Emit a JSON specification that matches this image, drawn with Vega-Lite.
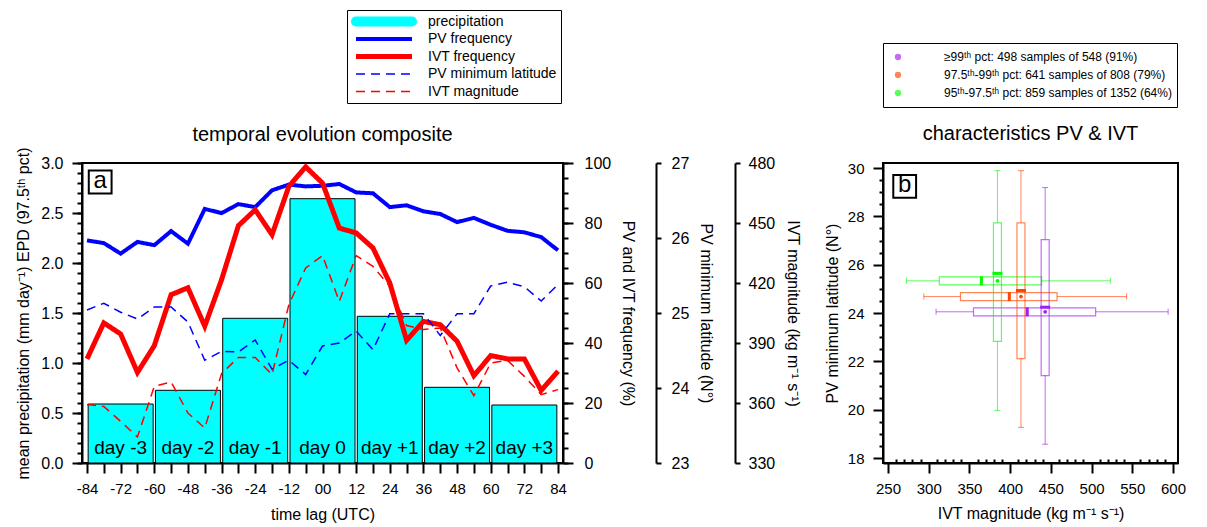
{
  "$schema": "https://vega.github.io/schema/vega-lite/v6.json",
  "autosize": {"type": "none"},
  "padding": {"left": 82, "top": 163, "right": 1125, "bottom": 364},
  "background": "white",
  "config": {
    "font": "Liberation Sans",
    "view": {"stroke": "black", "strokeWidth": 2},
    "axis": {"domainColor": "black", "domainWidth": 2, "tickColor": "black", "tickWidth": 2, "labelFontSize": 15, "labelColor": "black", "labelFont": "Liberation Sans", "titleFont": "Liberation Sans", "titleFontSize": 16, "titleFontWeight": "normal", "titleColor": "black", "grid": false, "labelFlush": false, "labelOverlap": false},
    "legend": {"labelFont": "Liberation Sans", "labelColor": "black", "strokeColor": "black", "fillColor": "white", "labelLimit": 400},
    "title": {"font": "Liberation Sans", "fontSize": 20, "fontWeight": "normal", "color": "black"}
  },
  "datasets": {
    "precip": [
      {"lag": -72, "precip": 0.59, "label": "day -3"},
      {"lag": -48, "precip": 0.727, "label": "day -2"},
      {"lag": -24, "precip": 1.447, "label": "day -1"},
      {"lag": 0, "precip": 2.643, "label": "day 0"},
      {"lag": 24, "precip": 1.467, "label": "day +1"},
      {"lag": 48, "precip": 0.757, "label": "day +2"},
      {"lag": 72, "precip": 0.58, "label": "day +3"}
    ],
    "lines": [
      {"lag": -84, "PV frequency": 74.2, "IVT frequency": 34.7, "PV minimum latitude": 25.04, "IVT magnitude": 359.2},
      {"lag": -78, "PV frequency": 73.3, "IVT frequency": 46.7, "PV minimum latitude": 25.13, "IVT magnitude": 358.3},
      {"lag": -72, "PV frequency": 69.8, "IVT frequency": 43.0, "PV minimum latitude": 25.01, "IVT magnitude": 350.8},
      {"lag": -66, "PV frequency": 73.7, "IVT frequency": 30.2, "PV minimum latitude": 24.92, "IVT magnitude": 343.0},
      {"lag": -60, "PV frequency": 72.6, "IVT frequency": 39.1, "PV minimum latitude": 25.08, "IVT magnitude": 368.3},
      {"lag": -54, "PV frequency": 77.3, "IVT frequency": 56.1, "PV minimum latitude": 25.08, "IVT magnitude": 370.5},
      {"lag": -48, "PV frequency": 73.1, "IVT frequency": 58.4, "PV minimum latitude": 24.88, "IVT magnitude": 355.0},
      {"lag": -42, "PV frequency": 84.7, "IVT frequency": 45.6, "PV minimum latitude": 24.37, "IVT magnitude": 347.5},
      {"lag": -36, "PV frequency": 83.3, "IVT frequency": 61.1, "PV minimum latitude": 24.49, "IVT magnitude": 374.7},
      {"lag": -30, "PV frequency": 86.3, "IVT frequency": 79.1, "PV minimum latitude": 24.48, "IVT magnitude": 382.8},
      {"lag": -24, "PV frequency": 85.3, "IVT frequency": 84.4, "PV minimum latitude": 24.64, "IVT magnitude": 382.8},
      {"lag": -18, "PV frequency": 90.9, "IVT frequency": 76.1, "PV minimum latitude": 24.25, "IVT magnitude": 374.2},
      {"lag": -12, "PV frequency": 92.8, "IVT frequency": 92.2, "PV minimum latitude": 24.37, "IVT magnitude": 409.2},
      {"lag": -6, "PV frequency": 92.2, "IVT frequency": 98.7, "PV minimum latitude": 24.18, "IVT magnitude": 427.5},
      {"lag": 0, "PV frequency": 92.4, "IVT frequency": 93.3, "PV minimum latitude": 24.56, "IVT magnitude": 433.7},
      {"lag": 6, "PV frequency": 93.0, "IVT frequency": 78.3, "PV minimum latitude": 24.60, "IVT magnitude": 410.8},
      {"lag": 12, "PV frequency": 90.2, "IVT frequency": 76.7, "PV minimum latitude": 24.76, "IVT magnitude": 433.7},
      {"lag": 18, "PV frequency": 89.9, "IVT frequency": 71.7, "PV minimum latitude": 24.51, "IVT magnitude": 428.3},
      {"lag": 24, "PV frequency": 85.3, "IVT frequency": 60.0, "PV minimum latitude": 24.99, "IVT magnitude": 418.3},
      {"lag": 30, "PV frequency": 85.9, "IVT frequency": 40.9, "PV minimum latitude": 24.99, "IVT magnitude": 398.7},
      {"lag": 36, "PV frequency": 83.9, "IVT frequency": 47.2, "PV minimum latitude": 24.99, "IVT magnitude": 396.7},
      {"lag": 42, "PV frequency": 83.0, "IVT frequency": 46.1, "PV minimum latitude": 24.70, "IVT magnitude": 397.5},
      {"lag": 48, "PV frequency": 80.3, "IVT frequency": 40.6, "PV minimum latitude": 24.99, "IVT magnitude": 377.5},
      {"lag": 54, "PV frequency": 81.7, "IVT frequency": 29.1, "PV minimum latitude": 24.99, "IVT magnitude": 363.7},
      {"lag": 60, "PV frequency": 79.4, "IVT frequency": 35.8, "PV minimum latitude": 25.36, "IVT magnitude": 380.0},
      {"lag": 66, "PV frequency": 77.4, "IVT frequency": 34.7, "PV minimum latitude": 25.41, "IVT magnitude": 381.3},
      {"lag": 72, "PV frequency": 76.9, "IVT frequency": 34.7, "PV minimum latitude": 25.35, "IVT magnitude": 373.3},
      {"lag": 78, "PV frequency": 75.3, "IVT frequency": 24.2, "PV minimum latitude": 25.16, "IVT magnitude": 364.2},
      {"lag": 84, "PV frequency": 70.9, "IVT frequency": 30.6, "PV minimum latitude": 25.38, "IVT magnitude": 366.7}
    ],
    "boxes": [
      {"cat": "≥99ᵗʰ pct: 498 samples of 548 (91%)", "ivt_lo": 309, "ivt_q1": 355, "ivt_med": 421, "ivt_q3": 505, "ivt_hi": 594, "ivt_mean": 443, "lat_lo": 18.57, "lat_q1": 21.41, "lat_med": 24.24, "lat_q3": 27.04, "lat_hi": 29.19, "lat_mean": 24.05},
      {"cat": "97.5ᵗʰ-99ᵗʰ pct: 641 samples of 808 (79%)", "ivt_lo": 294, "ivt_q1": 339, "ivt_med": 399, "ivt_q3": 457.6, "ivt_hi": 543, "ivt_mean": 413.3, "lat_lo": 19.27, "lat_q1": 22.11, "lat_med": 24.93, "lat_q3": 27.73, "lat_hi": 29.89, "lat_mean": 24.68},
      {"cat": "95ᵗʰ-97.5ᵗʰ pct: 859 samples of 1352 (64%)", "ivt_lo": 272.5, "ivt_q1": 313, "ivt_med": 364.7, "ivt_q3": 438.6, "ivt_hi": 523, "ivt_mean": 384.4, "lat_lo": 19.97, "lat_q1": 22.83, "lat_med": 25.64, "lat_q3": 27.73, "lat_hi": 29.89, "lat_mean": 25.33}
    ]
  },
  "bounds": "flush",
  "spacing": 320,
  "hconcat": [
    {
      "width": 481,
      "height": 300,
      "title": {"text": "temporal evolution composite", "offset": 2, "frame": "group"},
      "resolve": {"scale": {"y": "independent"}, "axis": {"y": "independent", "x": "independent"}},
      "layer": [
        {
          "data": {"name": "precip"},
          "mark": {"type": "bar", "size": 65, "fill": "#00ffff", "stroke": "black", "strokeWidth": 1},
          "encoding": {
            "x": {"field": "lag", "type": "quantitative", "scale": {"domain": [-84, 84], "nice": false},
              "axis": {"orient": "bottom", "values": [-84,-72,-60,-48,-36,-24,-12,0,12,24,36,48,60,72,84],
                "labelExpr": "datum.value == 0 ? '00' : '' + datum.value",
                "labelOverlap": false, "labelFlush": false,
                "tickSize": 10, "labelPadding": 8, "title": "time lag (UTC)", "titlePadding": 10}},
            "y": {"field": "precip", "type": "quantitative", "scale": {"domain": [0, 3], "nice": false},
              "axis": {"orient": "left", "values": [0, 0.5, 1, 1.5, 2, 2.5, 3], "format": ".1f", "tickSize": 10, "labelPadding": 9, "labelFontSize": 16,
                "title": "mean precipitation (mm day⁻¹) EPD (97.5ᵗʰ pct)", "titlePadding": 9}}
          }
        },
        {
          "data": {"name": "lines"},
          "transform": [{"fold": ["PV frequency", "IVT frequency", "PV minimum latitude", "IVT magnitude"], "as": ["series", "value"]}, {"filter": "datum.series == 'PV frequency'"}],
          "mark": {"type": "line"},
          "encoding": {
            "x": {"field": "lag", "type": "quantitative", "scale": {"domain": [-84, 84], "nice": false},
              "axis": {"orient": "bottom", "values": [-78,-66,-54,-42,-30,-18,-6,6,18,30,42,54,66,78], "labels": false, "domain": false, "tickSize": 10, "title": null}},
            "y": {"field": "value", "type": "quantitative", "scale": {"domain": [0, 100], "nice": false},
              "axis": {"orient": "right", "values": [0, 20, 40, 60, 80, 100], "tickSize": 10, "labelPadding": 11, "labelFontSize": 16, "title": "PV and IVT frequency (%)", "titlePadding": 9}},
            "color": {"field": "series", "type": "nominal",
              "scale": {"domain": ["precipitation", "PV frequency", "IVT frequency", "PV minimum latitude", "IVT magnitude"], "range": ["#00ffff", "#0000ff", "#ff0000", "#0000ff", "#ff0000"]},
              "legend": {"title": null, "orient": "none", "legendX": 265, "legendY": -153, "symbolType": "stroke", "symbolSize": 3136, "clipHeight": 15, "rowPadding": 2.5, "labelFontSize": 14, "labelOffset": 11, "padding": 4,
                "encode": {"symbols": {"update": {"strokeCap": {"signal": "datum.value == 'precipitation' ? 'round' : 'butt'"}}}}}},
            "strokeDash": {"field": "series", "type": "nominal",
              "scale": {"domain": ["precipitation", "PV frequency", "IVT frequency", "PV minimum latitude", "IVT magnitude"], "range": [[1, 0], [1, 0], [1, 0], [9, 6], [9, 6]]},
              "legend": {"title": null, "orient": "none", "legendX": 265, "legendY": -153, "symbolType": "stroke", "symbolSize": 3136, "clipHeight": 15, "rowPadding": 2.5, "labelFontSize": 14, "labelOffset": 11, "padding": 4}},
            "strokeWidth": {"field": "series", "type": "nominal",
              "scale": {"type": "ordinal", "domain": ["precipitation", "PV frequency", "IVT frequency", "PV minimum latitude", "IVT magnitude"], "range": [10, 4, 5, 1.5, 1.5]},
              "legend": {"title": null, "orient": "none", "legendX": 265, "legendY": -153, "symbolType": "stroke", "symbolSize": 3136, "clipHeight": 15, "rowPadding": 2.5, "labelFontSize": 14, "labelOffset": 11, "padding": 4}}
          }
        },
        {
          "data": {"name": "lines"},
          "transform": [{"fold": ["PV frequency", "IVT frequency", "PV minimum latitude", "IVT magnitude"], "as": ["series", "value"]}, {"filter": "datum.series == 'IVT frequency'"}],
          "mark": {"type": "line"},
          "encoding": {
            "x": {"field": "lag", "type": "quantitative", "scale": {"domain": [-84, 84], "nice": false}, "axis": null},
            "y": {"field": "value", "type": "quantitative", "scale": {"domain": [0, 100], "nice": false},
              "axis": {"orient": "right", "values": [0,5,10,15,20,25,30,35,40,45,50,55,60,65,70,75,80,85,90,95,100], "tickSize": 5, "labels": false, "domain": false, "title": null}},
            "color": {"field": "series", "type": "nominal",
              "scale": {"domain": ["precipitation", "PV frequency", "IVT frequency", "PV minimum latitude", "IVT magnitude"], "range": ["#00ffff", "#0000ff", "#ff0000", "#0000ff", "#ff0000"]}},
            "strokeDash": {"field": "series", "type": "nominal",
              "scale": {"domain": ["precipitation", "PV frequency", "IVT frequency", "PV minimum latitude", "IVT magnitude"], "range": [[1, 0], [1, 0], [1, 0], [9, 6], [9, 6]]}},
            "strokeWidth": {"field": "series", "type": "nominal",
              "scale": {"type": "ordinal", "domain": ["precipitation", "PV frequency", "IVT frequency", "PV minimum latitude", "IVT magnitude"], "range": [10, 4, 5, 1.5, 1.5]}}
          }
        },
        {
          "data": {"name": "lines"},
          "transform": [{"fold": ["PV frequency", "IVT frequency", "PV minimum latitude", "IVT magnitude"], "as": ["series", "value"]}, {"filter": "datum.series == 'PV minimum latitude'"}],
          "mark": {"type": "line"},
          "encoding": {
            "x": {"field": "lag", "type": "quantitative", "scale": {"domain": [-84, 84], "nice": false}, "axis": null},
            "y": {"field": "value", "type": "quantitative", "scale": {"domain": [23, 27], "nice": false},
              "axis": {"orient": "right", "offset": 93, "values": [23, 24, 25, 26, 27], "tickSize": 5, "labelPadding": 10, "labelFontSize": 16, "title": "PV minimum latitude (N°)", "titlePadding": 9}},
            "color": {"field": "series", "type": "nominal",
              "scale": {"domain": ["precipitation", "PV frequency", "IVT frequency", "PV minimum latitude", "IVT magnitude"], "range": ["#00ffff", "#0000ff", "#ff0000", "#0000ff", "#ff0000"]}},
            "strokeDash": {"field": "series", "type": "nominal",
              "scale": {"domain": ["precipitation", "PV frequency", "IVT frequency", "PV minimum latitude", "IVT magnitude"], "range": [[1, 0], [1, 0], [1, 0], [9, 6], [9, 6]]}},
            "strokeWidth": {"field": "series", "type": "nominal",
              "scale": {"type": "ordinal", "domain": ["precipitation", "PV frequency", "IVT frequency", "PV minimum latitude", "IVT magnitude"], "range": [10, 4, 5, 1.5, 1.5]}}
          }
        },
        {
          "data": {"name": "lines"},
          "transform": [{"fold": ["PV frequency", "IVT frequency", "PV minimum latitude", "IVT magnitude"], "as": ["series", "value"]}, {"filter": "datum.series == 'IVT magnitude'"}],
          "mark": {"type": "line"},
          "encoding": {
            "x": {"field": "lag", "type": "quantitative", "scale": {"domain": [-84, 84], "nice": false}, "axis": null},
            "y": {"field": "value", "type": "quantitative", "scale": {"domain": [330, 480], "nice": false},
              "axis": {"orient": "right", "offset": 172, "values": [330, 360, 390, 420, 450, 480], "tickSize": 5, "labelPadding": 8, "labelFontSize": 16, "title": "IVT magnitude (kg m⁻¹ s⁻¹)", "titlePadding": 10}},
            "color": {"field": "series", "type": "nominal",
              "scale": {"domain": ["precipitation", "PV frequency", "IVT frequency", "PV minimum latitude", "IVT magnitude"], "range": ["#00ffff", "#0000ff", "#ff0000", "#0000ff", "#ff0000"]}},
            "strokeDash": {"field": "series", "type": "nominal",
              "scale": {"domain": ["precipitation", "PV frequency", "IVT frequency", "PV minimum latitude", "IVT magnitude"], "range": [[1, 0], [1, 0], [1, 0], [9, 6], [9, 6]]}},
            "strokeWidth": {"field": "series", "type": "nominal",
              "scale": {"type": "ordinal", "domain": ["precipitation", "PV frequency", "IVT frequency", "PV minimum latitude", "IVT magnitude"], "range": [10, 4, 5, 1.5, 1.5]}}
          }
        },
        {
          "data": {"name": "precip"},
          "mark": {"type": "text", "fontSize": 19, "baseline": "alphabetic", "dy": -9, "color": "black"},
          "encoding": {
            "x": {"field": "lag", "type": "quantitative", "scale": {"domain": [-84, 84], "nice": false}, "axis": null},
            "y": {"datum": 0, "type": "quantitative", "scale": {"domain": [0, 3], "nice": false},
              "axis": {"orient": "left", "values": [0,0.1,0.2,0.3,0.4,0.5,0.6,0.7,0.8,0.9,1,1.1,1.2,1.3,1.4,1.5,1.6,1.7,1.8,1.9,2,2.1,2.2,2.3,2.4,2.5,2.6,2.7,2.8,2.9,3], "tickSize": 5, "labels": false, "domain": false, "title": null}},
            "text": {"field": "label"}
          }
        },
        {
          "data": {"values": [{}]},
          "mark": {"type": "point", "shape": "square", "size": 520, "filled": false, "stroke": "black", "strokeWidth": 2, "opacity": 1},
          "encoding": {
            "x": {"datum": -79.3, "type": "quantitative", "scale": {"domain": [-84, 84], "nice": false}, "axis": null},
            "y": {"datum": 2.81, "type": "quantitative", "scale": {"domain": [0, 3], "nice": false}, "axis": null}
          }
        },
        {
          "data": {"values": [{}]},
          "mark": {"type": "text", "text": "a", "fontSize": 24, "baseline": "middle", "align": "center", "dy": -1, "color": "black"},
          "encoding": {
            "x": {"datum": -79.3, "type": "quantitative", "scale": {"domain": [-84, 84], "nice": false}, "axis": null},
            "y": {"datum": 2.81, "type": "quantitative", "scale": {"domain": [0, 3], "nice": false}, "axis": null}
          }
        }
      ]
    },
    {
      "width": 295,
      "height": 300,
      "title": {"text": "characteristics PV & IVT", "offset": 17, "frame": "group"},
      "data": {"name": "boxes"},
      "resolve": {"axis": {"x": "independent", "y": "independent"}},
      "layer": [
        {
          "mark": {"type": "rule", "strokeWidth": 1, "strokeOpacity": 0.65},
          "encoding": {
            "x": {"field": "ivt_lo", "type": "quantitative", "scale": {"domain": [250, 600], "nice": false},
              "axis": {"orient": "bottom", "values": [250, 300, 350, 400, 450, 500, 550, 600], "tickSize": 10, "labelPadding": 8, "title": "IVT magnitude (kg m⁻¹ s⁻¹)", "titlePadding": 9}},
            "x2": {"field": "ivt_q1"},
            "y": {"field": "lat_mean", "type": "quantitative", "scale": {"domain": [18, 30], "nice": false},
              "axis": {"orient": "left", "values": [18, 20, 22, 24, 26, 28, 30], "tickSize": 10, "labelPadding": 9, "title": "PV minimum latitude (N°)", "titlePadding": 7}},
            "stroke": {"field": "cat", "type": "nominal", "legend": null,
              "scale": {"domain": ["95ᵗʰ-97.5ᵗʰ pct: 859 samples of 1352 (64%)", "97.5ᵗʰ-99ᵗʰ pct: 641 samples of 808 (79%)", "≥99ᵗʰ pct: 498 samples of 548 (91%)"], "range": ["#00ff00", "#ff4500", "#a020f0"]}}
          }
        },
        {
          "mark": {"type": "rule", "strokeWidth": 1, "strokeOpacity": 0.65},
          "encoding": {
            "x": {"field": "ivt_q3", "type": "quantitative", "scale": {"domain": [250, 600], "nice": false},
              "axis": {"orient": "bottom", "values": [260,270,280,290,310,320,330,340,360,370,380,390,410,420,430,440,460,470,480,490,510,520,530,540,560,570,580,590], "tickSize": -4, "labels": false, "domain": false, "title": null}},
            "x2": {"field": "ivt_hi"},
            "y": {"field": "lat_mean", "type": "quantitative", "scale": {"domain": [18, 30], "nice": false},
              "axis": {"orient": "left", "values": [18.5,19,19.5,20.5,21,21.5,22.5,23,23.5,24.5,25,25.5,26.5,27,27.5,28.5,29,29.5], "tickSize": 4, "labels": false, "domain": false, "title": null}},
            "stroke": {"field": "cat", "type": "nominal", "legend": null}
          }
        },
        {
          "mark": {"type": "rule", "strokeWidth": 1, "strokeOpacity": 0.65},
          "encoding": {
            "x": {"field": "ivt_mean", "type": "quantitative", "scale": {"domain": [250, 600], "nice": false}, "axis": null},
            "y": {"field": "lat_lo", "type": "quantitative", "scale": {"domain": [18, 30], "nice": false}, "axis": null},
            "y2": {"field": "lat_q1"},
            "stroke": {"field": "cat", "type": "nominal", "legend": null}
          }
        },
        {
          "mark": {"type": "rule", "strokeWidth": 1, "strokeOpacity": 0.65},
          "encoding": {
            "x": {"field": "ivt_mean", "type": "quantitative", "scale": {"domain": [250, 600], "nice": false}, "axis": null},
            "y": {"field": "lat_q3", "type": "quantitative", "scale": {"domain": [18, 30], "nice": false}, "axis": null},
            "y2": {"field": "lat_hi"},
            "stroke": {"field": "cat", "type": "nominal", "legend": null}
          }
        },
        {
          "mark": {"type": "bar", "filled": false, "size": 8, "strokeWidth": 1.2, "strokeOpacity": 0.65, "orient": "horizontal"},
          "encoding": {
            "x": {"field": "ivt_q1", "type": "quantitative", "scale": {"domain": [250, 600], "nice": false}, "axis": null},
            "x2": {"field": "ivt_q3"},
            "y": {"field": "lat_mean", "type": "quantitative", "scale": {"domain": [18, 30], "nice": false}, "axis": null},
            "stroke": {"field": "cat", "type": "nominal", "legend": null}
          }
        },
        {
          "mark": {"type": "bar", "filled": false, "size": 8, "strokeWidth": 1.2, "strokeOpacity": 0.65, "orient": "vertical"},
          "encoding": {
            "x": {"field": "ivt_mean", "type": "quantitative", "scale": {"domain": [250, 600], "nice": false}, "axis": null},
            "y": {"field": "lat_q1", "type": "quantitative", "scale": {"domain": [18, 30], "nice": false}, "axis": null},
            "y2": {"field": "lat_q3"},
            "stroke": {"field": "cat", "type": "nominal", "legend": null}
          }
        },
        {
          "transform": [{"fold": ["ivt_lo", "ivt_hi"], "as": ["k", "v"]}],
          "mark": {"type": "tick", "orient": "vertical", "size": 6, "thickness": 1, "opacity": 0.65},
          "encoding": {
            "x": {"field": "v", "type": "quantitative", "scale": {"domain": [250, 600], "nice": false}, "axis": null},
            "y": {"field": "lat_mean", "type": "quantitative", "scale": {"domain": [18, 30], "nice": false}, "axis": null},
            "fill": {"field": "cat", "type": "nominal"}
          }
        },
        {
          "transform": [{"fold": ["lat_lo", "lat_hi"], "as": ["k", "v"]}],
          "mark": {"type": "tick", "orient": "horizontal", "size": 6, "thickness": 1, "opacity": 0.65},
          "encoding": {
            "x": {"field": "ivt_mean", "type": "quantitative", "scale": {"domain": [250, 600], "nice": false}, "axis": null},
            "y": {"field": "v", "type": "quantitative", "scale": {"domain": [18, 30], "nice": false}, "axis": null},
            "fill": {"field": "cat", "type": "nominal"}
          }
        },
        {
          "mark": {"type": "tick", "orient": "vertical", "size": 9, "thickness": 3, "opacity": 1},
          "encoding": {
            "x": {"field": "ivt_med", "type": "quantitative", "scale": {"domain": [250, 600], "nice": false}, "axis": null},
            "y": {"field": "lat_mean", "type": "quantitative", "scale": {"domain": [18, 30], "nice": false}, "axis": null},
            "fill": {"field": "cat", "type": "nominal"}
          }
        },
        {
          "mark": {"type": "tick", "orient": "horizontal", "size": 10, "thickness": 3, "opacity": 1},
          "encoding": {
            "x": {"field": "ivt_mean", "type": "quantitative", "scale": {"domain": [250, 600], "nice": false}, "axis": null},
            "y": {"field": "lat_med", "type": "quantitative", "scale": {"domain": [18, 30], "nice": false}, "axis": null},
            "fill": {"field": "cat", "type": "nominal"}
          }
        },
        {
          "mark": {"type": "point", "shape": "circle", "filled": true, "size": 14, "opacity": 1},
          "encoding": {
            "x": {"field": "ivt_mean", "type": "quantitative", "scale": {"domain": [250, 600], "nice": false}, "axis": null},
            "y": {"field": "lat_mean", "type": "quantitative", "scale": {"domain": [18, 30], "nice": false}, "axis": null},
            "fill": {"field": "cat", "type": "nominal",
              "scale": {"domain": ["≥99ᵗʰ pct: 498 samples of 548 (91%)", "97.5ᵗʰ-99ᵗʰ pct: 641 samples of 808 (79%)", "95ᵗʰ-97.5ᵗʰ pct: 859 samples of 1352 (64%)"], "range": ["#a020f0", "#ff4500", "#00ff00"]},
              "legend": {"title": null, "orient": "none", "legendX": 801, "legendY": -120, "symbolType": "circle", "symbolSize": 40, "symbolOpacity": 1, "clipHeight": 18, "rowPadding": 0, "labelFontSize": 12, "labelOffset": 40, "symbolOffset": 4, "padding": 5}}
          }
        },
        {
          "data": {"values": [{}]},
          "mark": {"type": "point", "shape": "square", "size": 520, "filled": false, "stroke": "black", "strokeWidth": 2, "opacity": 1},
          "encoding": {
            "x": {"datum": 270.5, "type": "quantitative", "scale": {"domain": [250, 600], "nice": false}, "axis": null},
            "y": {"datum": 29.24, "type": "quantitative", "scale": {"domain": [18, 30], "nice": false}, "axis": null}
          }
        },
        {
          "data": {"values": [{}]},
          "mark": {"type": "text", "text": "b", "fontSize": 24, "baseline": "middle", "align": "center", "dy": -1, "color": "black"},
          "encoding": {
            "x": {"datum": 270.5, "type": "quantitative", "scale": {"domain": [250, 600], "nice": false}, "axis": null},
            "y": {"datum": 29.24, "type": "quantitative", "scale": {"domain": [18, 30], "nice": false}, "axis": null}
          }
        }
      ]
    }
  ]
}
